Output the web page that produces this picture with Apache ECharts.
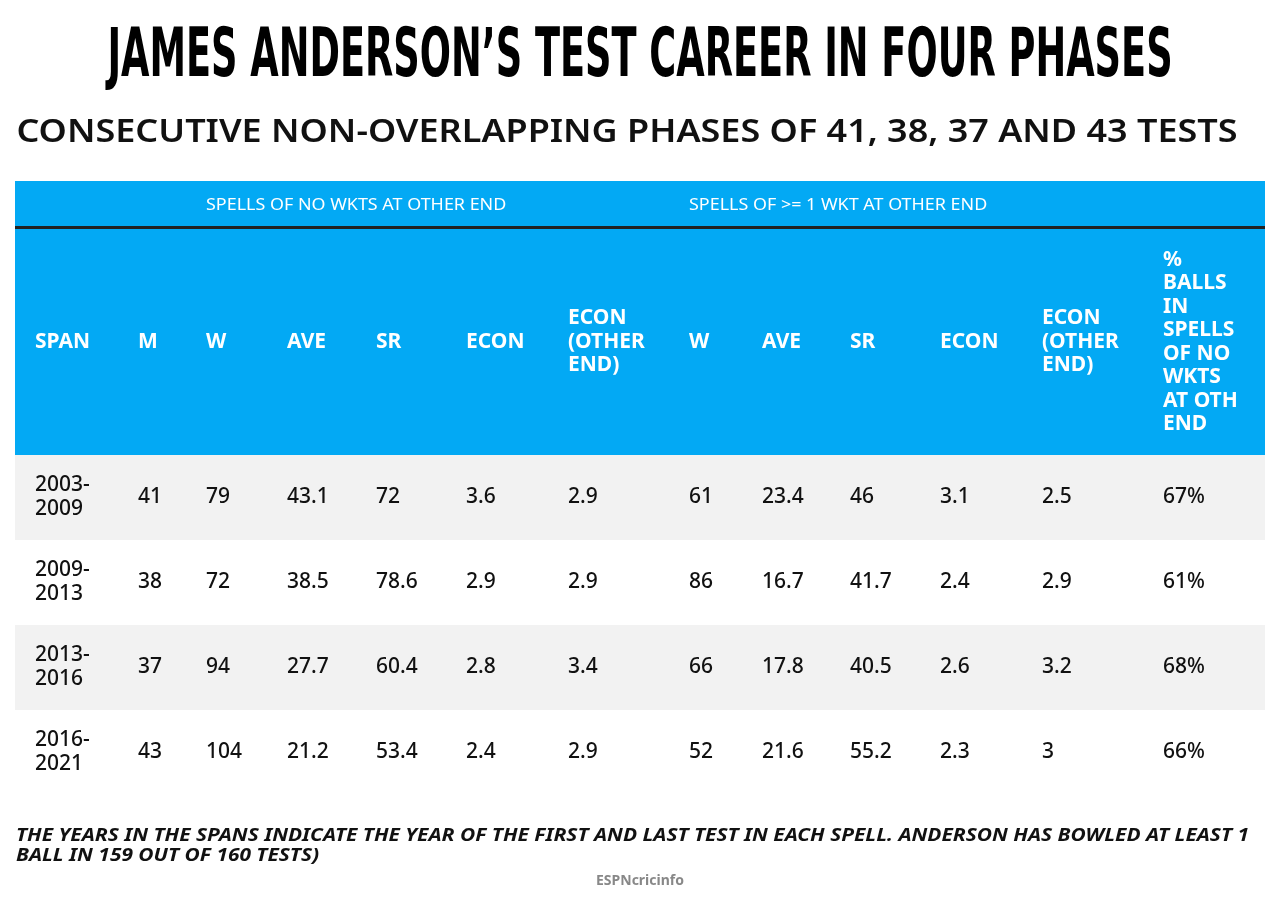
<!DOCTYPE html>
<html>
<head>
<meta charset="utf-8">
<script src="https://cdn.jsdelivr.net/npm/echarts@6/dist/echarts.min.js"></script>
<style>html,body{margin:0;padding:0;background:#fff}#chart{width:1280px;height:905px}</style>
</head>
<body>
<div id="chart"></div>
<script>
// table data
var headers = ['SPAN', 'M', 'W', 'AVE', 'SR', 'ECON', 'ECON\n(OTHER\nEND)', 'W', 'AVE', 'SR', 'ECON', 'ECON\n(OTHER\nEND)', '%\nBALLS\nIN\nSPELLS\nOF NO\nWKTS\nAT OTH\nEND'];
var spans = ['2003-\n2009', '2009-\n2013', '2013-\n2016', '2016-\n2021'];
var matches = ['41', '38', '37', '43'];
var noWktW = ['79', '72', '94', '104'];
var noWktAve = ['43.1', '38.5', '27.7', '21.2'];
var noWktSr = ['72', '78.6', '60.4', '53.4'];
var noWktEcon = ['3.6', '2.9', '2.8', '2.4'];
var noWktEconOther = ['2.9', '2.9', '3.4', '2.9'];
var wktW = ['61', '86', '66', '52'];
var wktAve = ['23.4', '16.7', '17.8', '21.6'];
var wktSr = ['46', '41.7', '40.5', '55.2'];
var wktEcon = ['3.1', '2.4', '2.6', '2.3'];
var wktEconOther = ['2.5', '2.9', '3.2', '3'];
var pctBalls = ['67%', '61%', '68%', '66%'];

var columns = [spans, matches, noWktW, noWktAve, noWktSr, noWktEcon, noWktEconOther,
    wktW, wktAve, wktSr, wktEcon, wktEconOther, pctBalls];
var colX = [35, 138, 206, 287, 376, 466, 568, 689, 762, 850, 940, 1042, 1163];

var blue = '#03a9f4';
var font = 'Noto Sans';
var g = [];

// titles
g.push({type: 'text', x: 640, y: 58, scaleX: 0.54,
    style: {text: 'JAMES ANDERSON\u2019S TEST CAREER IN FOUR PHASES', fill: '#000', font: 'bold 68px DejaVu Sans', align: 'center', verticalAlign: 'middle'}});
g.push({type: 'text', x: 627, y: 133, scaleX: 1.09,
    style: {text: 'CONSECUTIVE NON-OVERLAPPING PHASES OF 41, 38, 37 AND 43 TESTS', fill: '#111', font: '600 33px ' + font, align: 'center', verticalAlign: 'middle'}});

// header bands
g.push({type: 'rect', shape: {x: 15, y: 181, width: 1250, height: 46}, style: {fill: blue}});
g.push({type: 'rect', shape: {x: 15, y: 226, width: 1250, height: 3}, style: {fill: '#222'}});
g.push({type: 'rect', shape: {x: 15, y: 229, width: 1250, height: 226}, style: {fill: blue}});
g.push({type: 'text', x: 206, y: 205, scaleX: 1.12, style: {text: 'SPELLS OF NO WKTS AT OTHER END', fill: '#fff', font: '16px ' + font, verticalAlign: 'middle'}});
g.push({type: 'text', x: 689, y: 205, scaleX: 1.12, style: {text: 'SPELLS OF >= 1 WKT AT OTHER END', fill: '#fff', font: '16px ' + font, verticalAlign: 'middle'}});

headers.forEach(function (h, i) {
    g.push({type: 'text', x: colX[i], y: 342, style: {text: h, fill: '#fff', font: 'bold 21px ' + font, verticalAlign: 'middle', lineHeight: 23.5}});
});

// body rows
spans.forEach(function (s, r) {
    var y = 455 + r * 85;
    g.push({type: 'rect', shape: {x: 15, y: y, width: 1250, height: 85}, style: {fill: r % 2 === 0 ? '#f2f2f2' : '#fff'}});
    columns.forEach(function (col, c) {
        g.push({type: 'text', x: colX[c], y: y + 42, style: {text: col[r], fill: '#111', font: '500 21px ' + font, verticalAlign: 'middle', lineHeight: 24}});
    });
});

// footnote and logo
g.push({type: 'text', x: 16, y: 826, scaleX: 1.16,
    style: {text: 'THE YEARS IN THE SPANS INDICATE THE YEAR OF THE FIRST AND LAST TEST IN EACH SPELL. ANDERSON HAS BOWLED AT LEAST 1\nBALL IN 159 OUT OF 160 TESTS)', fill: '#111', font: 'italic bold 18px ' + font, lineHeight: 20}});
g.push({type: 'text', x: 640, y: 881, style: {text: 'ESPNcricinfo', fill: '#888', font: 'bold 14px ' + font, align: 'center', verticalAlign: 'middle'}});

var option = {
    backgroundColor: '#fff',
    graphic: g
};

var myChart = echarts.init(document.getElementById('chart'));
myChart.setOption(option);
</script>
</body>
</html>
